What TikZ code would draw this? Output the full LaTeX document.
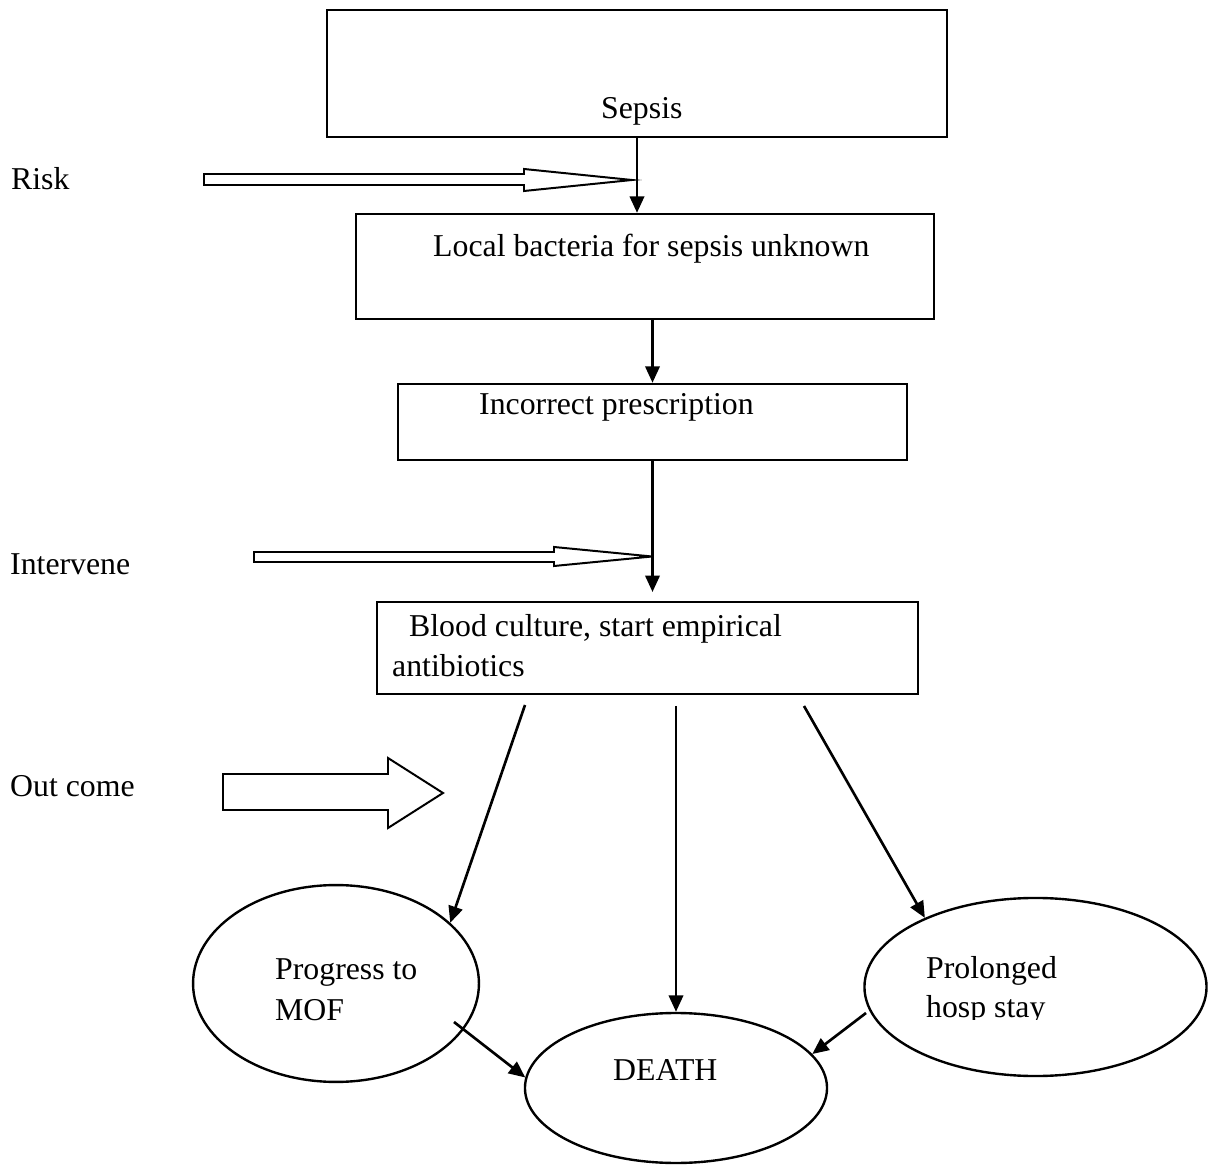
\documentclass[tikz,border=0pt]{standalone}
\usepackage{fontspec}
\setmainfont{Liberation Serif}
\usetikzlibrary{arrows.meta,shapes.geometric}
\begin{document}
\begin{tikzpicture}[x=0.3774pt,y=-0.3774pt,line width=0.9pt,
  boite/.style={draw,rectangle,inner sep=0pt},
  bulle/.style={draw,ellipse,inner sep=0pt},
  txt/.style={anchor=base west,inner sep=0pt,font=\fontsize{12}{15.6}\selectfont},
  fl/.style={line width=1pt,-{Triangle[length=6.2pt,width=5.4pt]}},
  creux/.style={line width=0.75pt,fill=white}]
\useasboundingbox (0,0) rectangle (1211,1165);

% boites
\node[boite,minimum width=234pt,minimum height=47.9pt] (sepsis) at (637,73.5) {};
\node[boite,minimum width=218.1pt,minimum height=39.6pt] (local) at (645,266.5) {};
\node[boite,minimum width=192.1pt,minimum height=28.7pt] (incorrect) at (652.5,422) {};
\node[boite,minimum width=204.2pt,minimum height=34.7pt] (blood) at (647.5,648) {};

\node[bulle,minimum width=107.9pt,minimum height=74.3pt] (mof) at (336,983.5) {};
\node[bulle,minimum width=114pt,minimum height=56.6pt] (death) at (676,1088) {};
\node[bulle,minimum width=129.1pt,minimum height=67.2pt] (prol) at (1035.5,987) {};

% textes
\node[txt] (tsepsis) at (600,119) {Sepsis};
\node[txt] (trisk) at (10,190) {Risk};
\node[txt] (tlocal) at (432,257) {Local bacteria for sepsis unknown};
\node[txt] (tincorrect) at (478,415) {Incorrect prescription};
\node[txt] (tintervene) at (9,575) {Intervene};
\node[txt] (tblood) at (408,637) {Blood culture, start empirical};
\node[txt] (tanti) at (391,677) {antibiotics};
\node[txt] (toutcome) at (9,797) {Out come};
\node[txt] (tprog) at (274,979) {Progress to};
\node[txt] (tmof) at (274,1020) {MOF};
\node[txt] (tdeath) at (612,1080) {DEATH};
\node[txt] (tprol) at (925,978) {Prolonged};
\begin{scope}
\clip (900,990) rectangle (1150,1019);
\node[txt] (thosp) at (925,1017) {hosp stay};
\end{scope}

% fleches creuses
\draw[creux] (204,174)--(524,174)--(524,169)--(632,180)--(524,191)--(524,185)--(204,185)--cycle;
\draw[creux] (254,552)--(554,552)--(554,547)--(652,556.5)--(554,566)--(554,562)--(254,562)--cycle;
\draw[creux] (223,774)--(388,774)--(388,758)--(443,793)--(388,828)--(388,810)--(223,810)--cycle;

% liaisons
\coordinate (ivtip) at (652.5,592);
\coordinate (b1) at (525,705);
\coordinate (b2) at (676,706);
\coordinate (b3) at (804,706);
\coordinate (m1) at (454,1022);
\coordinate (p1) at (866,1013);

\draw[fl] (sepsis.south)--(local.north -| sepsis.south);
\draw[fl] (local.south -| incorrect.south)--(incorrect.north);
\draw[fl] (incorrect.south)--(ivtip);
\draw[fl] (b1)--(mof.28);
\draw[fl] (b2)--(death.north);
\draw[fl] (b3)--(prol.148);
\draw[fl] (m1)--(death.176);
\draw[fl] (p1)--(death.14);
\end{tikzpicture}
\end{document}
